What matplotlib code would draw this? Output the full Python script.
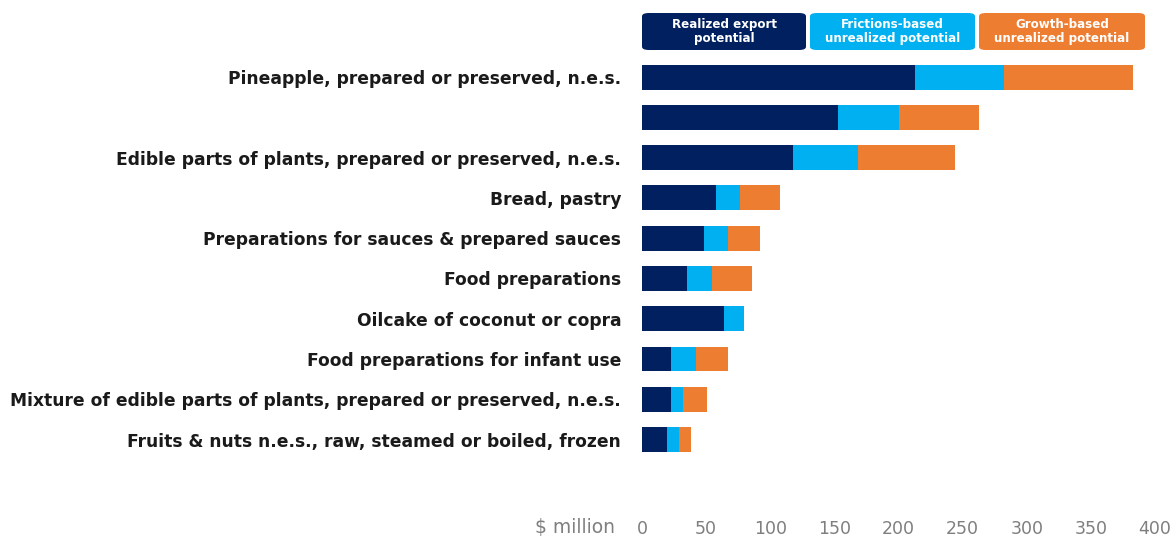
import matplotlib.pyplot as plt
from matplotlib.patches import FancyBboxPatch

products = [
    "Pineapple, prepared or preserved, n.e.s.",
    "",
    "Edible parts of plants, prepared or preserved, n.e.s.",
    "Bread, pastry",
    "Preparations for sauces & prepared sauces",
    "Food preparations",
    "Oilcake of coconut or copra",
    "Food preparations for infant use",
    "Mixture of edible parts of plants, prepared or preserved, n.e.s.",
    "Fruits & nuts n.e.s., raw, steamed or boiled, frozen",
]
realized = [212.6, 152.8, 117.7, 57.5, 48.3, 35.2, 63.8, 22.5, 22.5, 19.7]
frictions = [69.6, 47.2, 50.4, 19.3, 18.5, 19.0, 15.8, 19.3, 9.7, 9.0]
growth = [101.0, 62.8, 75.9, 31.0, 25.3, 31.5, 0.0, 25.3, 18.8, 9.8]
xticks = [0, 50, 100, 150, 200, 250, 300, 350, 400]

series_names = ["Realized export\npotential",
                "Frictions-based\nunrealized potential",
                "Growth-based\nunrealized potential"]
colors = ["#002060", "#00B0F0", "#ED7D31"]

plt.rcParams['font.family'] = ['DejaVu Sans']

fig = plt.figure(figsize=(11.74, 5.38), dpi=100)
ax = fig.add_axes([642 / 1174, 1 - 512 / 538, (1155 - 642) / 1174, (512 - 55) / 538])

pos = list(range(len(products)))
left2 = [a for a in realized]
left3 = [a + b for a, b in zip(realized, frictions)]
h = 0.62
ax.barh(pos, realized, height=h, color=colors[0])
ax.barh(pos, frictions, left=left2, height=h, color=colors[1])
ax.barh(pos, growth, left=left3, height=h, color=colors[2])

ax.set_xlim(0, 400)
ax.set_ylim(10.8, -0.55)
ax.set_yticks(pos)
ax.set_yticklabels(products, fontsize=12.3, fontweight='bold', color='#1a1a1a')
ax.set_xticks(xticks)
ax.set_xticklabels([str(t) for t in xticks], fontsize=12.5, color='#7f7f7f')
ax.tick_params(axis='y', length=0, pad=15)
ax.tick_params(axis='x', length=0, pad=6)
for s in ax.spines.values():
    s.set_visible(False)

fig.text(615 / 1174, 1 - 528 / 538, "$ million", ha='right', va='center',
         fontsize=13.5, color='#7f7f7f')

# legend boxes along the top
boxes = [(642, 806), (810, 975), (979, 1145)]
for (x0, x1), name, c in zip(boxes, series_names, colors):
    bx = x0 / 1174
    bw = (x1 - x0) / 1174
    by = 1 - 50 / 538
    bh = 37 / 538
    patch = FancyBboxPatch((bx, by), bw, bh, boxstyle="round,pad=0,rounding_size=0.006",
                           transform=fig.transFigure, facecolor=c, edgecolor='none')
    fig.patches.append(patch)
    fig.text(bx + bw / 2, by + bh / 2, name, ha='center', va='center', color='white',
             fontsize=8.6, fontweight='bold', linespacing=1.1)

fig.savefig("out.png", dpi=100)
